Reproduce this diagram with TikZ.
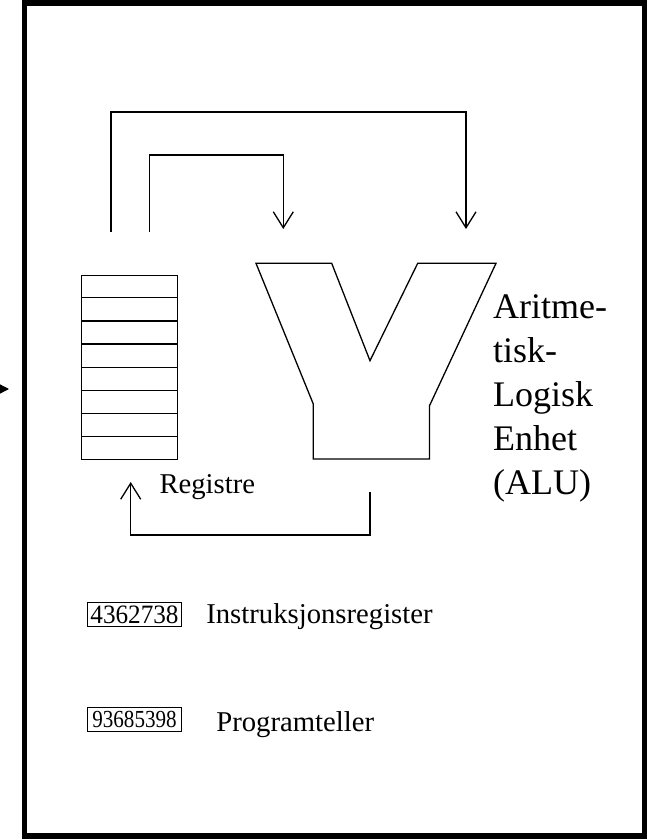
\documentclass[tikz,border=0pt]{standalone}
\usepackage{fontspec}
\setmainfont{Liberation Serif}
\usetikzlibrary{arrows.meta, positioning, calc}

\begin{document}
\begin{tikzpicture}[
  x=1pt, y=-1pt,
  regbox/.style = {draw, line width=1.3pt, minimum width=96pt, minimum height=184pt, inner sep=0pt},
  numbox/.style = {draw, line width=1.2pt, minimum width=94pt, minimum height=24pt, inner sep=0pt},
  txt/.style    = {inner sep=0pt, font=\fontsize{28.7}{34}\selectfont},
  flow/.style   = {line width=1.3pt, -{Straight Barb[length=16pt, width=20pt, line width=1.3pt]}},
  frame/.style  = {line width=5.5pt},
  node distance=24pt
]
  \useasboundingbox (0,0) rectangle (648,839);

  % CPU frame and incoming arrow
  \draw[frame] (24.5,3) rectangle (644.5,836);
  \coordinate (ext) at (-12,389);
  \coordinate (extend) at (9,389);
  \draw[line width=1.3pt, -{Triangle[length=9pt, width=9pt]}] (ext) -- (extend);

  % Registers
  \node[regbox] (regs) at (129.7,367.2) {};
  \foreach \k in {1,...,7}
    \draw[line width=1.3pt] ($(regs.north west)!\k/8!(regs.south west)$) -- ($(regs.north east)!\k/8!(regs.south east)$);
  \node[txt, anchor=base west] (regtxt) at (159.3,493) {Registre};

  % ALU
  \draw[line width=1.3pt] (256,263.3) -- (331.7,263.3) -- (370,360.7) -- (417.7,263.3) -- (496,263.3)
    -- (429.5,405.7) -- (429.5,459) -- (313.3,459) -- (313.3,404) -- cycle;
  \node[anchor=north west, inner sep=0pt, align=left, font=\fontsize{36}{44}\selectfont] (alutxt)
    at (493,294.5) {Aritme-\\tisk-\\Logisk\\Enhet\\(ALU)};

  % data paths
  \coordinate (regoutA) at (111,232);
  \coordinate (regoutB) at (149.3,232);
  \coordinate (aluinA) at (283.3,229);
  \coordinate (aluinB) at (466,229);
  \coordinate (aluout) at (370,492);
  \coordinate (regin) at (130.7,482);
  \draw[flow] (regoutA) -- ++(0,-120) -| (aluinB);
  \draw[flow] (regoutB) -- ++(0,-77) -| (aluinA);
  \draw[flow] (aluout) -- ++(0,43) -| (regin);

  % Instruction register and program counter
  \node[numbox] (ireg) at (134.5,614.7) {\fontsize{26.5}{30}\selectfont\scalebox{0.95}[1]{4362738}};
  \node[txt, base right=24pt of ireg] (iregtxt) {Instruksjonsregister};
  \node[numbox] (pcount) at (134.5,719.5) {\fontsize{24.5}{28}\selectfont\scalebox{0.86}[1]{93685398}};
  \node[txt, base right=34pt of pcount, yshift=-4pt] (pcounttxt) {Programteller};

\end{tikzpicture}
\end{document}
